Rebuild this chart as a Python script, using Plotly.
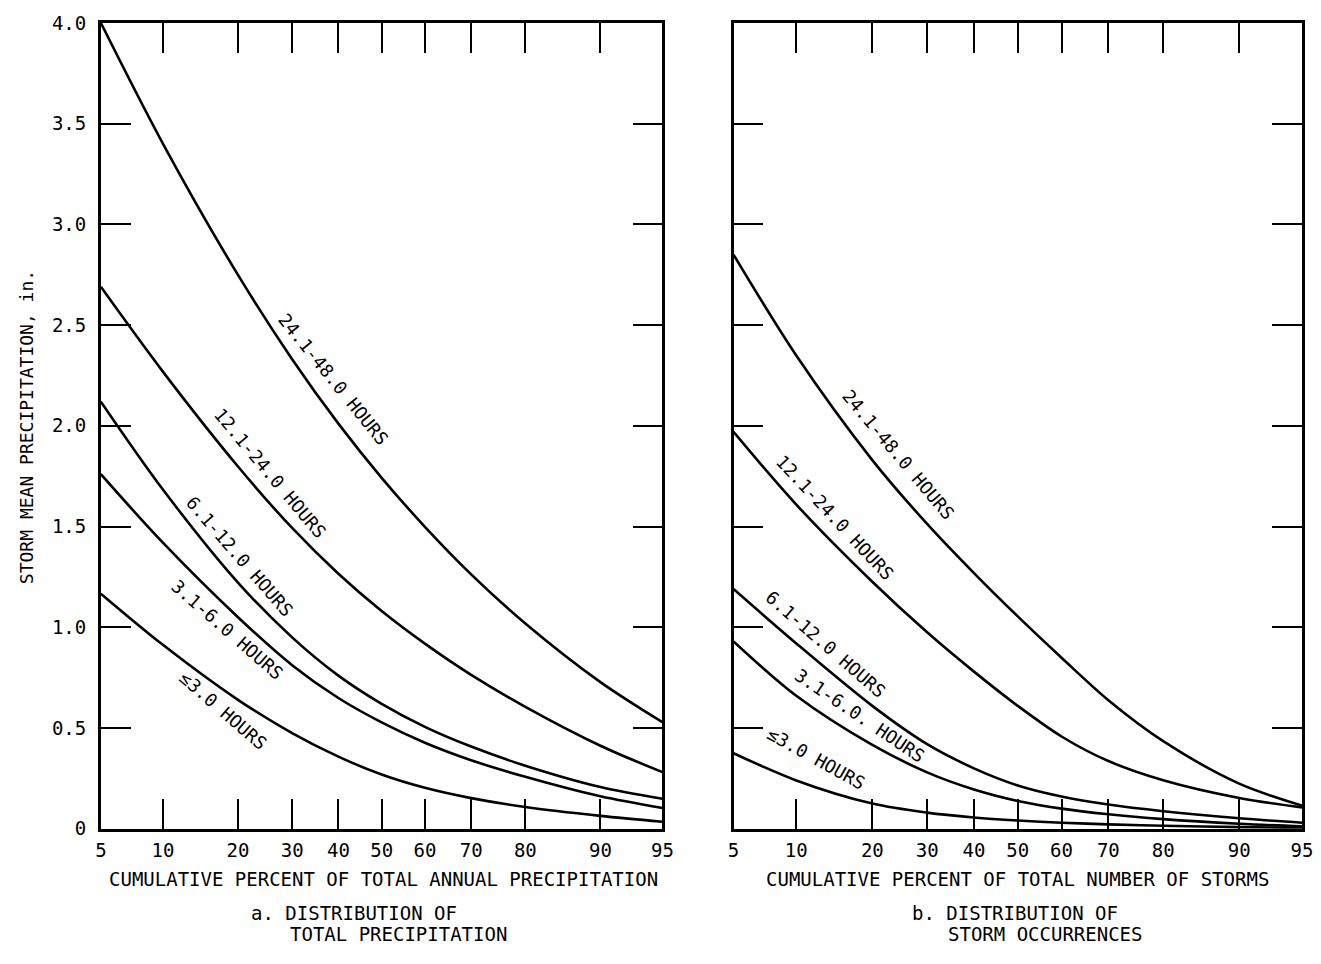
import plotly.graph_objects as go
from statistics import NormalDist

# ---------------- data ----------------
percent = [5, 10, 20, 30, 40, 50, 60, 70, 80, 90, 95]
tick_labels = ["5", "10", "20", "30", "40", "50", "60", "70", "80", "90", "95"]
y_ticks = [0, 0.5, 1.0, 1.5, 2.0, 2.5, 3.0, 3.5, 4.0]
y_tick_labels = ["0", "0.5", "1.0", "1.5", "2.0", "2.5", "3.0", "3.5", "4.0"]

# panel a: cumulative percent of total annual precipitation
a_24_48 = [4.00, 3.401, 2.749, 2.331, 2.011, 1.742, 1.499, 1.263, 1.019, 0.728, 0.529]
a_12_24 = [2.69, 2.269, 1.798, 1.493, 1.266, 1.081, 0.919, 0.764, 0.605, 0.412, 0.281]
a_6_12 = [2.12, 1.684, 1.222, 0.95, 0.76, 0.62, 0.506, 0.408, 0.313, 0.207, 0.149]
a_3_6 = [1.76, 1.42, 1.05, 0.812, 0.649, 0.528, 0.427, 0.34, 0.258, 0.161, 0.103]
a_le3 = [1.167, 0.913, 0.64, 0.475, 0.358, 0.269, 0.203, 0.152, 0.108, 0.064, 0.035]

# panel b: cumulative percent of total number of storms
b_24_48 = [2.85, 2.349, 1.83, 1.513, 1.269, 1.054, 0.849, 0.638, 0.435, 0.224, 0.115]
b_12_24 = [1.97, 1.609, 1.226, 0.975, 0.78, 0.61, 0.458, 0.336, 0.241, 0.153, 0.106]
b_6_12 = [1.19, 0.92, 0.61, 0.42, 0.30, 0.215, 0.16, 0.12, 0.087, 0.052, 0.03]
b_3_6 = [0.93, 0.66, 0.416, 0.28, 0.195, 0.138, 0.10, 0.072, 0.048, 0.025, 0.012]
b_le3 = [0.375, 0.24, 0.125, 0.08, 0.056, 0.041, 0.03, 0.022, 0.015, 0.008, 0.004]

# ---------------- probability (normal) scale ----------------
nd = NormalDist()


def zp(p):
    return nd.inv_cdf(p / 100.0)


xz = [zp(p) for p in percent]

# figure 1305x948 + default 8px page margin = 1321x964 page
OFF = 8
W, H = 1305, 948
FONT = "DejaVu Sans Mono"


def px(x):
    return (x - OFF) / W


def py(y):
    return 1 - (y - OFF) / H


fig = go.Figure()

line_style = dict(color="black", width=2.6, shape="spline", smoothing=0.9)
for ys in [a_24_48, a_12_24, a_6_12, a_3_6, a_le3]:
    fig.add_trace(go.Scatter(x=xz, y=ys, mode="lines", line=line_style,
                             xaxis="x", yaxis="y", showlegend=False, hoverinfo="skip"))
for ys in [b_24_48, b_12_24, b_6_12, b_3_6, b_le3]:
    fig.add_trace(go.Scatter(x=xz, y=ys, mode="lines", line=line_style,
                             xaxis="x2", yaxis="y2", showlegend=False, hoverinfo="skip"))

common_x = dict(
    range=[zp(5), zp(95)], tickvals=xz, ticktext=tick_labels,
    ticks="inside", ticklen=30, tickwidth=2.2, tickcolor="black",
    showline=True, linecolor="black", linewidth=2.6, mirror="ticks",
    showgrid=False, zeroline=False, ticklabelstandoff=3, ticklabeloverflow="allow",
    tickfont=dict(family=FONT, size=19, color="black"),
)
common_y = dict(
    range=[0, 4.0], tickvals=y_ticks, ticktext=y_tick_labels,
    ticks="inside", ticklen=30, tickwidth=2.2, tickcolor="black",
    showline=True, linecolor="black", linewidth=2.6, mirror="ticks",
    showgrid=False, zeroline=False, ticklabelstandoff=8, ticklabeloverflow="allow",
    tickfont=dict(family=FONT, size=19, color="black"),
)

y_dom = [py(837), py(12)]
fig.update_layout(
    width=W, height=H,
    margin=dict(l=0, r=0, t=0, b=0),
    paper_bgcolor="white", plot_bgcolor="white",
    font=dict(family=FONT, size=19, color="black"),
    xaxis=dict(domain=[px(96), px(665)], anchor="y", **common_x),
    yaxis=dict(domain=y_dom, anchor="x", **common_y),
    xaxis2=dict(domain=[px(737), px(1313)], anchor="y2", **common_x),
    yaxis2=dict(domain=y_dom, anchor="x2", showticklabels=False, **common_y),
)

ann = []


def text(x, y, s, angle=0, size=19, xanchor="center"):
    ann.append(dict(x=px(x), y=py(y), xref="paper", yref="paper", text=s,
                    showarrow=False, textangle=angle, xanchor=xanchor, yanchor="middle",
                    font=dict(family=FONT, size=size, color="black")))


# axis titles and panel captions
text(20, 426, "STORM MEAN PRECIPITATION, in.", angle=-90, size=18)
text(382, 888, "CUMULATIVE PERCENT OF TOTAL ANNUAL PRECIPITATION")
text(1025, 888, "CUMULATIVE PERCENT OF TOTAL NUMBER OF STORMS")
text(246, 923, "a. DISTRIBUTION OF", xanchor="left")
text(286, 945, "TOTAL PRECIPITATION", xanchor="left")
text(916, 923, "b. DISTRIBUTION OF", xanchor="left")
text(952, 945, "STORM OCCURRENCES", xanchor="left")

# curve labels, panel a
text(332, 377, "24.1-48.0 HOURS", angle=51, size=18)
text(268, 473, "12.1-24.0 HOURS", angle=50, size=18)
text(237, 558, "6.1-12.0 HOURS", angle=49, size=18)
text(224, 633, "3.1-6.0 HOURS", angle=41, size=18)
text(220, 716, "\u22643.0 HOURS", angle=41, size=18)

# curve labels, panel b
text(904, 454, "24.1-48.0 HOURS", angle=50, size=18)
text(840, 518, "12.1-24.0 HOURS", angle=47, size=18)
text(831, 648, "6.1-12.0 HOURS", angle=41, size=18)
text(865, 721, "3.1-6.0. HOURS", angle=34, size=18)
text(821, 765, "\u22643.0 HOURS", angle=29, size=18)

fig.update_layout(annotations=ann)

fig.write_html("out.html", config={"displayModeBar": False})
